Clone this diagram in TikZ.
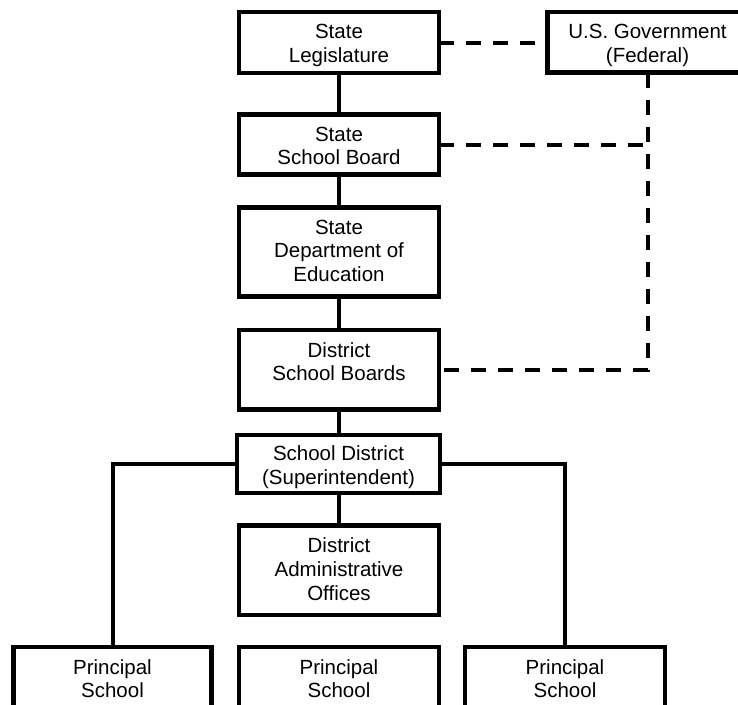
\documentclass[tikz,border=0pt]{standalone}
\usepackage{fontspec}
\setmainfont{Liberation Sans}
\begin{document}
\begin{tikzpicture}[x=1pt,y=-1pt,
  box/.style={draw=black, line width=4.5pt, inner sep=0pt, outer sep=0pt, minimum width=200pt},
  lab/.style={font=\fontsize{20.5}{23.8}\selectfont, align=center, inner sep=0pt, anchor=north, yshift=-12pt, text=black},
  conn/.style={draw=black, line width=4pt},
  fed/.style={draw=black, line width=4pt, dash pattern=on 15pt off 12pt}]
\useasboundingbox (0,0) rectangle (738,704);
% main column
\node[box, minimum height=60.8pt, label={[lab]north:State\\Legislature}] (leg) at (339,42.6) {};
\node[box, minimum height=60pt, label={[lab]north:State\\School Board}] (ssb) at (339,144.5) {};
\node[box, minimum height=89.2pt, label={[lab]north:State\\Department of\\Education}] (sde) at (339,252.1) {};
\node[box, minimum height=79.5pt, label={[lab]north:District\\School Boards}] (dsb) at (339,369.75) {};
\node[box, minimum width=203pt, minimum height=58pt, label={[lab,yshift=1.5pt]north:School District\\(Superintendent)}] (sd) at (338.5,464) {};
\node[box, minimum height=89.3pt, label={[lab]north:District\\Administrative\\Offices}] (dao) at (339,570.15) {};
% federal
\node[box, minimum height=60.3pt, label={[lab]north:U.S. Government\\(Federal)}] (gov) at (647.5,42.35) {};
% schools
\node[box, minimum width=198pt, minimum height=100pt, label={[lab]north:Principal\\School}] (p1) at (112.5,697) {};
\node[box, minimum height=100pt, label={[lab]north:Principal\\School}] (p2) at (339,697) {};
\node[box, minimum height=100pt, label={[lab]north:Principal\\School}] (p3) at (565,697) {};
% solid connectors
\draw[conn] (leg.south) -- (ssb.north);
\draw[conn] (ssb.south) -- (sde.north);
\draw[conn] (sde.south) -- (dsb.north);
\draw[conn] (dsb.south) -- (sd.north -| dsb.south);
\draw[conn] (sd.south -| dao.north) -- (dao.north);
\draw[conn] (sd.west) -| (p1.north);
\draw[conn] (sd.east) -| (p3.north);
% dashed federal links
\draw[fed] (leg.east) -- (gov.west |- leg.east);
\draw[fed] (gov.south) |- (dsb.east);
\draw[fed] (ssb.east) -- (ssb.east -| gov.south);
\end{tikzpicture}
\end{document}
